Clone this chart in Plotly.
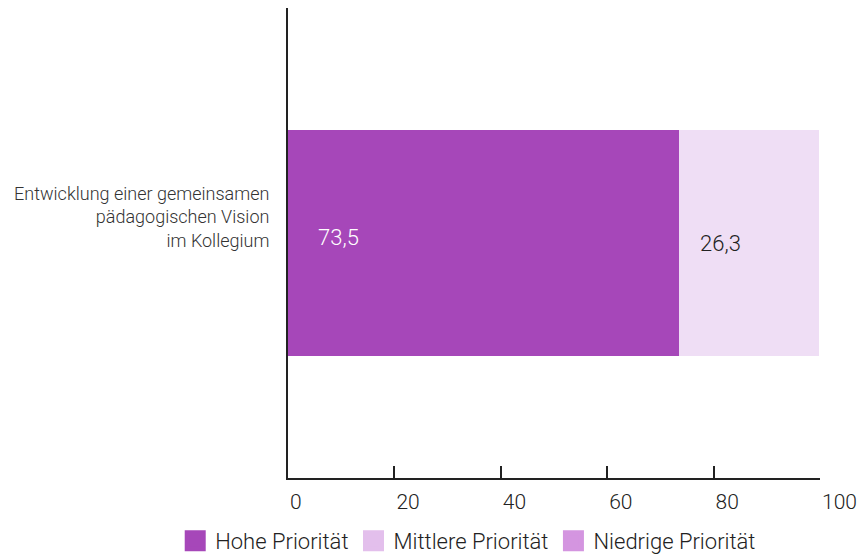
import plotly.graph_objects as go

categories = ["Entwicklung einer gemeinsamen<br>pädagogischen Vision<br>im Kollegium"]
series_names = ["Hohe Priorität", "Mittlere Priorität", "Niedrige Priorität"]
values_hohe = [73.5]
values_mittlere = [26.3]
values_niedrige = [0.0]
x_ticks = [0, 20, 40, 60, 80, 100]

bar_colors = ["#a647b9", "#efdef5", "#d495e0"]
legend_colors = ["#a647b9", "#e3bfec", "#d495e0"]
label_colors = ["#ffffff", "#222222", "#222222"]

FONT = "Roboto, sans-serif"

fig = go.Figure()
series = [values_hohe, values_mittlere, values_niedrige]
for name, vals, col in zip(series_names, series, bar_colors):
    fig.add_trace(go.Bar(
        y=categories, x=vals, orientation="h", name=name,
        marker=dict(color=col, line=dict(width=0)),
        width=0.479, showlegend=False, hoverinfo="skip",
    ))
for name, col in zip(series_names, legend_colors):
    fig.add_trace(go.Scatter(
        x=[None], y=[None], mode="markers", name=name,
        marker=dict(symbol="square", size=16, color=col, line=dict(width=5, color=col)),
    ))

# value labels
starts = [0, values_hohe[0]]
shifts = [28, 19]
ylifts = [6, 0]
for s, v, c, sh, yl in zip(starts, [values_hohe[0], values_mittlere[0]], label_colors, shifts, ylifts):
    fig.add_annotation(
        x=s, y=categories[0], xref="x", yref="y", text=f"{v:.1f}".replace(".", ","),
        showarrow=False, xanchor="left", yanchor="middle", xshift=sh, yshift=yl,
        font=dict(family=FONT, size=22, color=c, weight=300),
    )

fig.update_layout(
    barmode="stack",
    width=862, height=556,
    margin=dict(l=288, r=42, t=8, b=78, autoexpand=False),
    paper_bgcolor="white", plot_bgcolor="white",
    font=dict(family=FONT, color="#222222", weight=300),
    legend=dict(
        orientation="h", x=-0.212, xanchor="left", y=-0.134, yanchor="middle",
        font=dict(family=FONT, size=22, color="#222222", weight=300),
        traceorder="normal", tracegroupgap=0,
    ),
    showlegend=True,
)
fig.update_xaxes(
    range=[0, 100], tickvals=x_ticks, ticktext=[str(t) for t in x_ticks],
    showgrid=False, zeroline=False, showline=True, linecolor="#222222", linewidth=2,
    ticks="inside", ticklen=12, tickwidth=2, tickcolor="#222222",
    ticklabelposition="outside right", ticklabelstandoff=4, automargin=False,
    tickfont=dict(family=FONT, size=21, color="#222222", weight=300),
)
fig.update_yaxes(
    range=[-0.5, 0.5], showgrid=False, zeroline=False, showline=True,
    linecolor="#222222", linewidth=2, ticks="", ticklabelstandoff=13,
    ticklabelshift=-26, automargin=False,
    tickfont=dict(family=FONT, size=18, color="#333333", weight=300),
)

fig.write_html("out.html")
